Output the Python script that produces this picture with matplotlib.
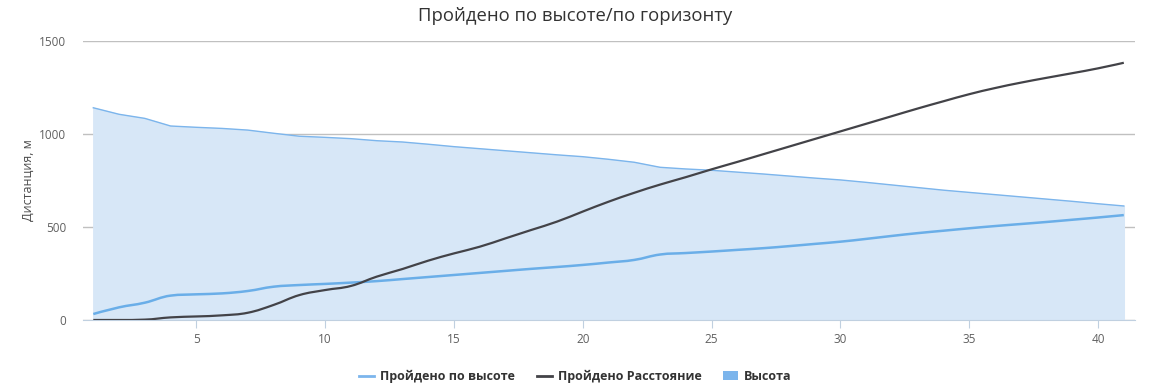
import numpy as np
import matplotlib.pyplot as plt
from matplotlib.patches import Patch, PathPatch
from matplotlib.lines import Line2D
from matplotlib.path import Path

# data
km = list(range(1, 42))
altitude = [1141, 1106, 1084, 1043, 1036, 1030, 1021, 1004, 988, 982,
            975, 964, 957, 945, 932, 921, 910, 899, 888, 878,
            864, 848, 821, 812, 805, 795, 785, 774, 763, 753,
            740, 726, 712, 698, 686, 674, 662, 650, 638, 625, 613]
climbed = [32, 68, 93, 131, 138, 143, 156, 179, 188, 194,
           201, 209, 220, 231, 242, 253, 264, 275, 285, 296,
           309, 323, 352, 360, 368, 377, 386, 397, 409, 421,
           436, 452, 467, 480, 493, 505, 516, 527, 539, 551, 564]
distance = [0, 0, 2, 14, 19, 25, 39, 81, 134, 161,
            183, 233, 274, 319, 358, 394, 439, 484, 529, 583,
            636, 684, 728, 768, 810, 850, 891, 932, 973, 1014,
            1055, 1096, 1137, 1176, 1214, 1247, 1276, 1302, 1327, 1353, 1383]

labels = ['Пройдено по высоте', 'Пройдено Расстояние', 'Высота']


def spline_path(x, y, smoothing=1.5):
    # bezier path through the points, like a highcharts "spline" series
    x = np.asarray(x, float)
    y = np.asarray(y, float)
    n = len(x)
    lc = [(x[i], y[i]) for i in range(n)]
    rc = [(x[i], y[i]) for i in range(n)]
    d = smoothing + 1
    for i in range(1, n - 1):
        lx = (smoothing * x[i] + x[i - 1]) / d
        ly = (smoothing * y[i] + y[i - 1]) / d
        rx = (smoothing * x[i] + x[i + 1]) / d
        ry = (smoothing * y[i] + y[i + 1]) / d
        corr = (ry - ly) * (rx - x[i]) / (rx - lx) + y[i] - ry
        ly += corr
        ry += corr
        if ly > y[i - 1] and ly > y[i]:
            ly = max(y[i - 1], y[i]); ry = 2 * y[i] - ly
        elif ly < y[i - 1] and ly < y[i]:
            ly = min(y[i - 1], y[i]); ry = 2 * y[i] - ly
        if ry > y[i + 1] and ry > y[i]:
            ry = max(y[i + 1], y[i]); ly = 2 * y[i] - ry
        elif ry < y[i + 1] and ry < y[i]:
            ry = min(y[i + 1], y[i]); ly = 2 * y[i] - ry
        lc[i] = (lx, ly)
        rc[i] = (rx, ry)
    verts = [(x[0], y[0])]
    codes = [Path.MOVETO]
    for i in range(n - 1):
        verts += [rc[i], lc[i + 1], (x[i + 1], y[i + 1])]
        codes += [Path.CURVE4] * 3
    return Path(verts, codes)


plt.rcParams['font.family'] = ['Open Sans', 'DejaVu Sans']

fig = plt.figure(figsize=(11.51, 3.92), dpi=100)
ax = fig.add_axes([0.0721, 0.1837, 0.9139, 0.7117])

ax.fill_between(km, altitude, 0, color='#d7e7f7', zorder=1)
ax.plot(km, altitude, color='#7cb5ec', lw=1, zorder=2)
ax.add_patch(PathPatch(spline_path(km, climbed), fill=False, edgecolor='#6aaee8', lw=1.8, zorder=3))
ax.add_patch(PathPatch(spline_path(km, distance), fill=False, edgecolor='#434348', lw=1.6, zorder=4))

ax.set_xlim(0.6, 41.43)
ax.set_ylim(0, 1500)
ax.set_yticks([0, 500, 1000, 1500])
ax.set_xticks([5, 10, 15, 20, 25, 30, 35, 40])
ax.grid(axis='y', color='#c0c0c0', lw=1, zorder=0)
ax.set_axisbelow(True)

for s in ['top', 'right', 'left']:
    ax.spines[s].set_visible(False)
ax.spines['bottom'].set_color('#c0d0e0')
ax.tick_params(axis='y', length=0, labelsize=8.5, labelcolor='#606060', pad=12)
ax.tick_params(axis='x', length=6, color='#c0d0e0', labelsize=8.5, labelcolor='#606060')

ax.set_ylabel('Дистанция, м', fontsize=9, color='#4d4d4d', labelpad=3)
fig.text(0.5, 0.96, 'Пройдено по высоте/по горизонту', ha='center', va='center',
         fontsize=13.3, color='#333333')

handles = [Line2D([], [], color='#7cb5ec', lw=2),
           Line2D([], [], color='#434348', lw=2),
           Patch(facecolor='#7cb5ec', edgecolor='none')]
leg = fig.legend(handles, labels, loc='center', bbox_to_anchor=(0.5, 0.04), ncol=3,
                 frameon=False, handlelength=1.2, handletextpad=0.5, columnspacing=1.7,
                 prop={'weight': 'bold', 'size': 9})
for t in leg.get_texts():
    t.set_color('#333333')

fig.savefig('out.png', dpi=100)
